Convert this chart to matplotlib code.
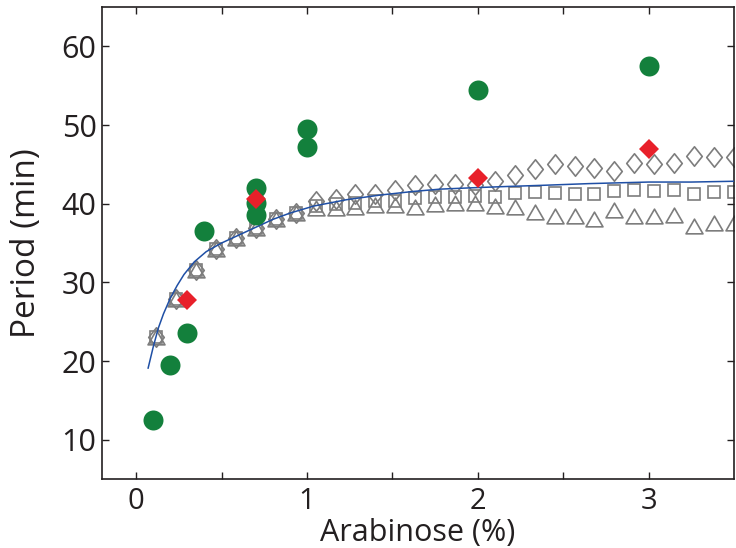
"""
Oscillator period vs arabinose concentration
"""

import numpy as np
import matplotlib
matplotlib.use('Agg')
import matplotlib.pyplot as plt
from matplotlib.path import Path

plt.rcParams['font.family'] = ['Open Sans', 'DejaVu Sans']

# Experimental data (green circles)
exp_x = [0.1, 0.2, 0.3, 0.4, 0.7, 0.7, 0.7, 1.0, 1.0, 2.0, 3.0]
exp_y = [12.5, 19.5, 23.5, 36.5, 42.0, 40.1, 38.6, 49.5, 47.2, 54.5, 57.5]

# Red diamonds
red_x = [0.3, 0.7, 2.0, 3.0]
red_y = [27.8, 40.6, 43.3, 46.9]

# Model curve (blue)
fit_x = [0.07, 0.1, 0.13, 0.16, 0.2, 0.24, 0.28, 0.34, 0.41, 0.5, 0.61, 0.7,
         0.8, 0.9, 1.04, 1.23, 1.43, 1.62, 1.78, 2.0, 2.19, 2.4, 2.65, 3.0,
         3.25, 3.5]
fit_y = [19.1, 21.8, 24.2, 26.0, 28.0, 29.6, 31.0, 32.6, 33.9, 35.0, 36.1, 37.0,
         38.0, 38.8, 39.7, 40.5, 41.1, 41.55, 41.85, 42.05, 42.2, 42.35, 42.55,
         42.75, 42.75, 42.85]

# Simulation points (gray open markers)
sim_x = [0.117, 0.233, 0.35, 0.467, 0.583, 0.7, 0.817, 0.933, 1.05, 1.167,
         1.283, 1.4, 1.517, 1.633, 1.75, 1.867, 1.983, 2.1, 2.217, 2.333,
         2.45, 2.567, 2.683, 2.8, 2.917, 3.033, 3.15, 3.267, 3.383, 3.5]
sim_diamond = [23.1, 27.9, 31.6, 34.2, 35.7, 36.9, 38.0, 38.8, 40.3, 40.6,
               41.2, 41.2, 41.7, 42.4, 42.5, 42.5, 42.4, 42.9, 43.7, 44.4,
               45.0, 44.8, 44.5, 44.1, 45.2, 45.0, 45.2, 46.1, 45.9, 45.9]
sim_square = [23.1, 27.9, 31.6, 34.2, 35.7, 36.9, 38.0, 38.8, 39.7, 39.9,
              40.1, 40.3, 40.4, 40.7, 40.9, 40.9, 41.0, 40.9, 41.4, 41.5,
              41.4, 41.2, 41.2, 41.6, 41.7, 41.6, 41.7, 41.2, 41.5, 41.5]
sim_triangle = [23.1, 27.9, 31.6, 34.2, 35.7, 36.9, 38.0, 38.8, 39.4, 39.5,
                39.6, 39.8, 39.8, 39.6, 40.0, 40.1, 40.1, 39.7, 39.6, 38.9,
                38.4, 38.4, 38.1, 39.2, 38.4, 38.4, 38.5, 37.1, 37.5, 37.5]

GRAY = '#7d7d7d'
DARK = '#231f20'

# custom marker shapes
tall_diamond = Path([(0, 1), (0.8, 0), (0, -1), (-0.8, 0), (0, 1)], closed=True)
flat_triangle = Path([(0, 0.866), (1, -0.866), (-1, -0.866), (0, 0.866)], closed=True)

fig = plt.figure(figsize=(7.36, 5.48), dpi=100)
ax = fig.add_axes([0.1386, 0.1259, 0.8587, 0.8613])

ax.plot(sim_x, sim_triangle, linestyle='none', marker=flat_triangle, ms=12.2,
        mfc='none', mec=GRAY, mew=1.2, zorder=2)
ax.plot(sim_x, sim_square, linestyle='none', marker='s', ms=8.3,
        mfc='none', mec=GRAY, mew=1.2, zorder=2)
ax.plot(sim_x, sim_diamond, linestyle='none', marker=tall_diamond, ms=14,
        mfc='none', mec=GRAY, mew=1.2, zorder=2)

ax.plot(fit_x, fit_y, color='#1f4fa5', lw=1.1, zorder=3)

ax.plot(exp_x, exp_y, linestyle='none', marker='o', ms=14.4,
        mfc='#13803c', mew=0, zorder=4)
ax.plot(red_x, red_y, linestyle='none', marker='D', ms=10.2,
        mfc='#e8202a', mew=0, zorder=5)

ax.set_xlim(-0.2, 3.5)
ax.set_ylim(5, 65)
ax.set_xticks([0, 0.5, 1, 1.5, 2, 2.5, 3])
ax.set_xticklabels(['0', '', '1', '', '2', '', '3'])
ax.set_yticks([10, 20, 30, 40, 50, 60])

ax.tick_params(direction='in', top=True, right=True, length=5, width=1,
               color=DARK, labelcolor=DARK, labelsize=22)
ax.tick_params(axis='x', labelsize=21, pad=6)
ax.tick_params(axis='y', pad=4)
for s in ax.spines.values():
    s.set_linewidth(1.2)
    s.set_color(DARK)

ax.set_xlabel('Arabinose (%)', fontsize=22, color=DARK, va='baseline')
ax.xaxis.set_label_coords(0.5, -0.1314)
ax.set_ylabel('Period (min)', fontsize=24, color=DARK, va='center')
ax.yaxis.set_label_coords(-0.119, 0.5)

fig.savefig('out.png', dpi=100)
